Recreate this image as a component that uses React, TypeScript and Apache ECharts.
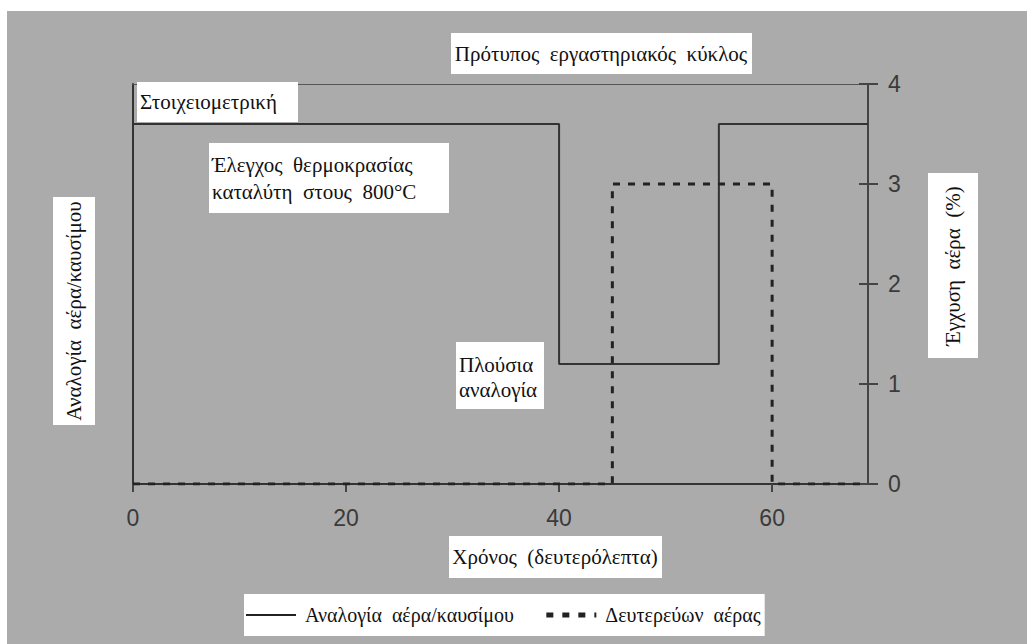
import React, { useEffect, useRef } from "react";
import * as echarts from "echarts";

const timeRatio = [0, 40, 55, 69];
const airFuelRatio = [3.6, 1.2, 3.6, 3.6];
const timeAir = [0, 45, 60, 69];
const secondaryAir = [0, 3, 0, 0];
const xTicks = [0, 20, 40, 60];
const yTicks = [0, 1, 2, 3, 4];

const seriesNames = ["Αναλογία  αέρα/καυσίμου", "Δευτερεύων  αέρας"];
const titleText = "Πρότυπος  εργαστηριακός  κύκλος";
const xName = "Χρόνος  (δευτερόλεπτα)";
const yLeftName = "Αναλογία  αέρα/καυσίμου";
const yRightName = "Έγχυση  αέρα  (%)";
const noteStoich = "Στοιχειομετρική";
const noteTemp = "Έλεγχος  θερμοκρασίας\nκαταλύτη  στους  800°C";
const noteRich = "Πλούσια\nαναλογία";

const SERIF = "Liberation Serif";
const SANS = "Liberation Sans";

function box(x: number, y: number, w: number, h: number) {
  return { type: "rect", z: 100, shape: { x, y, width: w, height: h }, style: { fill: "#ffffff" } };
}

function label(x: number, y: number, text: string, align: string, extra: any = {}) {
  return {
    type: "text",
    z: 101,
    x,
    y,
    ...extra,
    style: {
      text,
      fontFamily: SERIF,
      fontSize: 21,
      fill: "#111",
      align,
      verticalAlign: "middle",
      ...(extra.style || {}),
    },
  };
}

export default function App() {
  const ref = useRef<HTMLDivElement>(null);
  useEffect(() => {
    if (!ref.current) return;
    const chart = echarts.init(ref.current, undefined, { renderer: "svg" });
    chart.setOption({
      animation: false,
      backgroundColor: "#ffffff",
      grid: { left: 133, right: 159, top: 84, bottom: 160, show: false },
      xAxis: [
        {
          type: "value",
          min: 0,
          max: 69,
          position: "bottom",
          axisLine: { show: true, onZero: false, lineStyle: { color: "#333", width: 2 } },
          axisTick: { show: true, length: 8, customValues: xTicks, lineStyle: { color: "#444", width: 2 } },
          axisLabel: { customValues: xTicks, margin: 22, fontSize: 23, fontFamily: SANS, color: "#3a3a3a" },
          splitLine: { show: false },
        },
        {
          type: "value",
          min: 0,
          max: 69,
          position: "top",
          axisLine: { show: true, onZero: false, lineStyle: { color: "#555", width: 1 } },
          axisTick: { show: false },
          axisLabel: { show: false },
          splitLine: { show: false },
        },
      ],
      yAxis: [
        {
          type: "value",
          min: 0,
          max: 4,
          position: "right",
          axisLine: { show: true, onZero: false, lineStyle: { color: "#444", width: 2 } },
          axisTick: { show: true, length: 10, customValues: yTicks, lineStyle: { color: "#444", width: 2 } },
          axisLabel: { customValues: yTicks, margin: 20, fontSize: 23, fontFamily: SANS, color: "#3a3a3a" },
          splitLine: { show: false },
        },
        {
          type: "value",
          min: 0,
          max: 4,
          position: "right",
          axisLine: { show: false, onZero: false },
          axisTick: { show: true, inside: true, length: 9, customValues: yTicks, lineStyle: { color: "#444", width: 2 } },
          axisLabel: { show: false },
          splitLine: { show: false },
        },
        {
          type: "value",
          min: 0,
          max: 4,
          position: "left",
          axisLine: { show: true, onZero: false, lineStyle: { color: "#333", width: 2 } },
          axisTick: { show: false },
          axisLabel: { show: false },
          splitLine: { show: false },
        },
      ],
      legend: {
        left: 244,
        top: 594,
        padding: [11, 4, 11, 1],
        backgroundColor: "#ffffff",
        itemWidth: 50,
        itemHeight: 14,
        itemGap: 30,
        itemStyle: { opacity: 0 },
        textStyle: { fontFamily: SERIF, fontSize: 20, color: "#111", padding: [0, 0, 0, 4] },
        data: [
          { name: seriesNames[0], lineStyle: { width: 2, color: "#222" } },
          { name: seriesNames[1], lineStyle: { width: 5, color: "#222", type: [7, 9] } },
        ],
      },
      series: [
        {
          name: seriesNames[0],
          type: "line",
          step: "end",
          yAxisIndex: 2,
          symbol: "none",
          data: timeRatio.map((t, i) => [t, airFuelRatio[i]]),
          lineStyle: { color: "#333", width: 2 },
          itemStyle: { color: "#333" },
          z: 3,
        },
        {
          name: seriesNames[1],
          type: "line",
          step: "end",
          yAxisIndex: 0,
          symbol: "none",
          data: timeAir.map((t, i) => [t, secondaryAir[i]]),
          lineStyle: { color: "#222", width: 3, type: [7, 8] },
          itemStyle: { color: "#222" },
          z: 4,
        },
      ],
      graphic: [
        { type: "rect", z: -5, shape: { x: 7, y: 11, width: 1020, height: 633 }, style: { fill: "#ababab" } },
        box(451, 33, 301, 41),
        label(601, 54, titleText, "center"),
        box(137, 82, 161, 40),
        label(140, 102, noteStoich, "left"),
        box(209, 143, 240, 70),
        label(212, 178, noteTemp, "left", { style: { lineHeight: 27 } }),
        box(456, 342, 88, 67),
        label(459, 377, noteRich, "left", { style: { lineHeight: 25 } }),
        box(53, 197, 42, 228),
        label(74, 311, yLeftName, "center", { rotation: Math.PI / 2 }),
        box(928, 173, 50, 185),
        label(953, 266, yRightName, "center", { rotation: Math.PI / 2 }),
        box(449, 536, 213, 42),
        label(555, 557, xName, "center"),
      ],
    });
    return () => chart.dispose();
  }, []);
  return <div ref={ref} style={{ position: "fixed", left: 0, top: 0, width: 1027, height: 644 }} />;
}
